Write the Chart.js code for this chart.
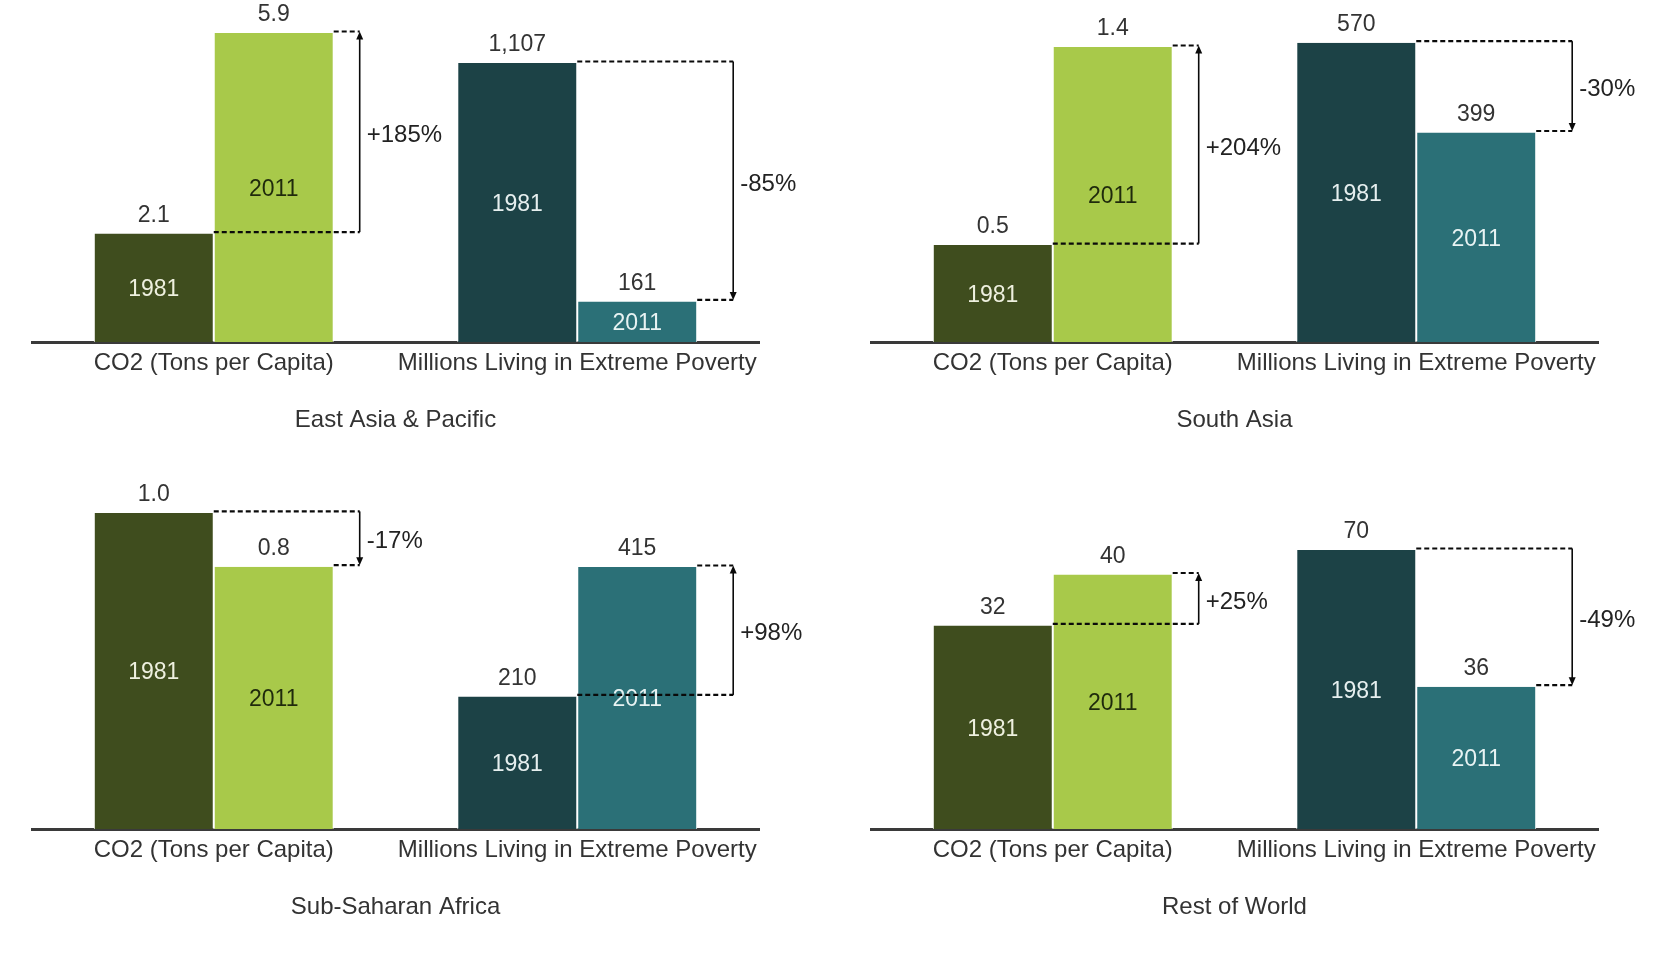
<!DOCTYPE html>
<html>
<head>
<meta charset="utf-8">
<script src="https://cdn.jsdelivr.net/npm/chart.js@4"></script>
<style>
  html, body { margin: 0; padding: 0; background: #ffffff; }
  body { width: 1663px; height: 969px; position: relative; overflow: hidden; }
  canvas { position: absolute; }
</style>
</head>
<body>
<canvas id="c0" width="820" height="498" style="left:0px;top:-38px"></canvas>
<canvas id="c1" width="820" height="498" style="left:839px;top:-38px"></canvas>
<canvas id="c2" width="820" height="498" style="left:0px;top:449px"></canvas>
<canvas id="c3" width="820" height="498" style="left:839px;top:449px"></canvas>
<script>
// ---------- data ----------
const regions = ['East Asia & Pacific', 'South Asia', 'Sub-Saharan Africa', 'Rest of World'];
const categories = ['CO2 (Tons per Capita)', 'Millions Living in Extreme Poverty'];
const years = ['1981', '2011'];
const co2_1981 = [2.07, 0.46, 1.0, 32];
const co2_2011 = [5.9, 1.4, 0.83, 40];
const poverty_1981 = [1107, 570, 210, 70];
const poverty_2011 = [161, 399, 415, 35.7];
const co2Change = ['+185%', '+204%', '-17%', '+25%'];
const povertyChange = ['-85%', '-30%', '+98%', '-49%'];
const co2Decimals = [1, 1, 1, 0];
// axis ranges (scale options)
const co2AxisMax = [6.53, 1.623, 1.082, 53.75];
const povertyAxisMax = [1357, 651.3, 541.7, 85.8];

// ---------- styles ----------
const FONT = "'Liberation Sans', Arial, sans-serif";
const colors = {
  co2_1981: '#3F4D1E', co2_2011: '#A8C94A',
  pov_1981: '#1C4246', pov_2011: '#2B7077'
};
const innerText = ['#EEF0DF', '#1F2A0C', '#E6EFEF', '#E8F3F3'];

const annotate = {
  id: 'annotate',
  afterDatasetsDraw(chart, args, opts) {
    const ctx = chart.ctx;
    const metas = [0, 1, 2, 3].map(i => chart.getDatasetMeta(i));
    const bars = [metas[0].data[0], metas[1].data[0], metas[2].data[1], metas[3].data[1]];
    const vals = opts.values;
    ctx.save();
    // value labels and year labels
    bars.forEach((b, i) => {
      ctx.font = '23px ' + FONT;
      ctx.textAlign = 'center';
      ctx.textBaseline = 'middle';
      ctx.fillStyle = '#333333';
      ctx.fillText(vals[i], b.x, b.y - 18);
      ctx.fillStyle = innerText[i];
      ctx.fillText(years[i % 2], b.x, (b.y + b.base) / 2 + 2);
    });
    // connectors
    const pairs = [[bars[0], bars[1], 26, opts.changes[0]], [bars[2], bars[3], 36, opts.changes[1]]];
    pairs.forEach(([b1, b2, off, txt]) => {
      const lx = b2.x + b2.width / 2 + off;
      const y1 = b1.y - 1.5, y2 = b2.y - 1.5;
      ctx.strokeStyle = '#0A0A0A';
      ctx.lineWidth = 2.2;
      ctx.setLineDash([5, 3]);
      ctx.beginPath();
      ctx.moveTo(b1.x + b1.width / 2, y1); ctx.lineTo(lx, y1);
      ctx.moveTo(b2.x + b2.width / 2, y2); ctx.lineTo(lx, y2);
      ctx.stroke();
      ctx.setLineDash([]);
      ctx.lineWidth = 1.6;
      const dir = y2 > y1 ? 1 : -1;
      ctx.beginPath();
      ctx.moveTo(lx, y1); ctx.lineTo(lx, y2 - dir * 6);
      ctx.stroke();
      ctx.fillStyle = '#0A0A0A';
      ctx.beginPath();
      ctx.moveTo(lx, y2);
      ctx.lineTo(lx - 3.5, y2 - dir * 8);
      ctx.lineTo(lx + 3.5, y2 - dir * 8);
      ctx.closePath();
      ctx.fill();
      ctx.font = '24px ' + FONT;
      ctx.textAlign = 'left';
      ctx.textBaseline = 'middle';
      ctx.fillStyle = '#222222';
      ctx.fillText(txt, lx + 7, (y1 + y2) / 2 + 3.5);
    });
    ctx.restore();
  }
};

function fmtCO2(v, d) { return v.toFixed(d); }
function fmtPov(v) { return Math.round(v).toLocaleString('en-US'); }

regions.forEach((region, r) => {
  const barOpts = {
    borderColor: '#ffffff',
    borderWidth: { left: 1, right: 1, top: 0, bottom: 0 },
    borderSkipped: false,
    skipNull: true,
    barPercentage: 1,
    categoryPercentage: 0.66
  };
  new Chart(document.getElementById('c' + r), {
    type: 'bar',
    data: {
      labels: categories,
      datasets: [
        Object.assign({ label: 'CO2 ' + years[0], data: [co2_1981[r], null], backgroundColor: colors.co2_1981, yAxisID: 'y' }, barOpts),
        Object.assign({ label: 'CO2 ' + years[1], data: [co2_2011[r], null], backgroundColor: colors.co2_2011, yAxisID: 'y' }, barOpts),
        Object.assign({ label: 'Poverty ' + years[0], data: [null, poverty_1981[r]], backgroundColor: colors.pov_1981, yAxisID: 'y2' }, barOpts),
        Object.assign({ label: 'Poverty ' + years[1], data: [null, poverty_2011[r]], backgroundColor: colors.pov_2011, yAxisID: 'y2' }, barOpts)
      ]
    },
    options: {
      responsive: false,
      animation: false,
      events: [],
      layout: { padding: { top: 38, left: 32, right: 61, bottom: 25 } },
      plugins: {
        legend: { display: false },
        tooltip: { enabled: false },
        annotate: {
          values: [fmtCO2(co2_1981[r], co2Decimals[r]), fmtCO2(co2_2011[r], co2Decimals[r]), fmtPov(poverty_1981[r]), fmtPov(poverty_2011[r])],
          changes: [co2Change[r], povertyChange[r]]
        }
      },
      scales: {
        x: {
          grid: { display: false, drawTicks: false },
          border: { display: true, color: '#3A3A3A', width: 3 },
          ticks: { color: '#333333', padding: 7, font: { family: FONT, size: 24 }, maxRotation: 0, autoSkip: false },
          title: { display: true, text: region, color: '#333333', font: { family: FONT, size: 24 }, padding: { top: 21.4, bottom: 0 } }
        },
        y: { display: false, min: 0, max: co2AxisMax[r] },
        y2: { display: false, min: 0, max: povertyAxisMax[r] }
      }
    },
    plugins: [annotate]
  });
});
</script>
</body>
</html>
